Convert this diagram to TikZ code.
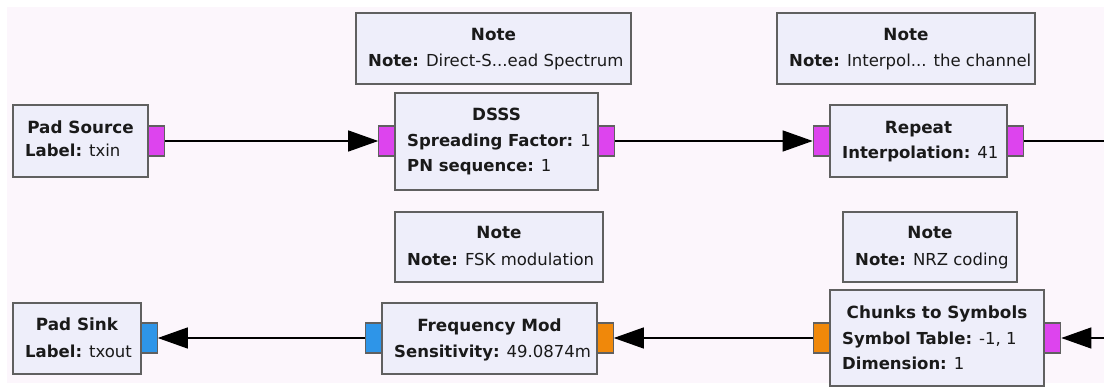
\documentclass[tikz,border=0pt]{standalone}
\usepackage{fontspec}
\setmainfont{DejaVu Sans}
\usetikzlibrary{arrows.meta}
\definecolor{bg}{HTML}{FCF6FC}
\definecolor{blockfill}{HTML}{EEEEFA}
\definecolor{blockdraw}{HTML}{606060}
\definecolor{portmag}{HTML}{DD44EE}
\definecolor{portorange}{HTML}{F0880A}
\definecolor{portblue}{HTML}{2E95E8}
\definecolor{txt}{HTML}{1A1A1A}
\begin{document}
\begin{tikzpicture}[x=1pt,y=-1pt,
  block/.style={draw=blockdraw, fill=blockfill, line width=1.3pt, rectangle, inner sep=0pt},
  port/.style={draw=blockdraw, line width=1.1pt, rectangle, inner sep=0pt, minimum width=16.5pt, minimum height=30pt},
  magport/.style={port, fill=portmag},
  orport/.style={port, fill=portorange},
  blport/.style={port, fill=portblue},
  ttl/.style={font=\fontsize{16.8}{20}\selectfont\bfseries, text=txt, inner sep=0pt, anchor=base},
  prm/.style={font=\fontsize{16.5}{20}\selectfont, text=txt, inner sep=0pt, anchor=base west},
  wire/.style={line width=1.3pt, draw=black},
  flow/.style={wire, -{Triangle[length=30pt,width=21pt]}}]
\useasboundingbox (0,0) rectangle (1104,387);
\fill[white] (0,0) rectangle (1104,387);
\fill[bg] (7,7) rectangle (1104,383);

% ports
\node[magport] (psrcout) at (156.5,141) {};
\node[magport] (dsssin) at (387,141) {};
\node[magport] (dsssout) at (606.5,141) {};
\node[magport] (repin) at (821.5,141) {};
\node[magport] (repout) at (1015,141) {};
\node[blport] (psinkin) at (149,338) {};
\node[blport] (fmout) at (374,338) {};
\node[orport] (fmin) at (605,338) {};
\node[orport] (ctsout) at (821.5,338) {};
\node[magport] (ctsin) at (1052.5,338) {};

% blocks
\node[block, minimum width=135pt, minimum height=72pt] (psrc) at (80.5,141) {};
\node[block, minimum width=203pt, minimum height=97pt] (dsss) at (496.5,141.5) {};
\node[block, minimum width=177pt, minimum height=72pt] (rep) at (918.5,141) {};
\node[block, minimum width=275pt, minimum height=71pt] (note1) at (493.5,48.5) {};
\node[block, minimum width=258pt, minimum height=71pt] (note2) at (906,48.5) {};
\node[block, minimum width=128pt, minimum height=71pt] (psink) at (77,338.5) {};
\node[block, minimum width=215pt, minimum height=71pt] (fm) at (489.5,338.5) {};
\node[block, minimum width=214pt, minimum height=96pt] (cts) at (937,338) {};
\node[block, minimum width=208pt, minimum height=70pt] (note3) at (499,247) {};
\node[block, minimum width=174pt, minimum height=70pt] (note4) at (930,247) {};

% texts
\node[ttl] (psrct) at (psrc.center |- 0,133.5) {Pad Source};
\node[prm] (psrcp) at (25,157) {\textbf{Label:} txin};

\node[ttl] (dssst) at (dsss.center |- 0,121) {DSSS};
\node[prm] (dsssp1) at (407,146.5) {\textbf{Spreading Factor:} 1};
\node[prm] (dsssp2) at (407,172) {\textbf{PN sequence:} 1};

\node[ttl] (rept) at (rep.center |- 0,133.5) {Repeat};
\node[prm] (repp) at (842,158.5) {\textbf{Interpolation:} 41};

\node[ttl] (note1t) at (note1.center |- 0,40.5) {Note};
\node[prm] (note1p) at (368,66.5) {\textbf{Note:} Direct-S...ead Spectrum};

\node[ttl] (note2t) at (note2.center |- 0,40.5) {Note};
\node[prm] (note2p) at (789,66.5) {\textbf{Note:} Interpol... the channel};

\node[ttl] (psinkt) at (psink.center |- 0,331) {Pad Sink};
\node[prm] (psinkp) at (25,357.5) {\textbf{Label:} txout};

\node[ttl] (fmt) at (fm.center |- 0,331.5) {Frequency Mod};
\node[prm] (fmp) at (394,357.5) {\textbf{Sensitivity:} 49.0874m};

\node[ttl] (ctst) at (cts.center |- 0,318.5) {Chunks to Symbols};
\node[prm] (ctsp1) at (842,344.5) {\textbf{Symbol Table:} -1, 1};
\node[prm] (ctsp2) at (842,370) {\textbf{Dimension:} 1};

\node[ttl] (note3t) at (note3.center |- 0,239) {Note};
\node[prm] (note3p) at (407,265.5) {\textbf{Note:} FSK modulation};

\node[ttl] (note4t) at (note4.center |- 0,239) {Note};
\node[prm] (note4p) at (855,265.5) {\textbf{Note:} NRZ coding};

% connectors
\coordinate (topend) at (1104,141);
\coordinate (botstart) at (1104,338);
\draw[flow] (psrcout.east) -- (dsssin.west);
\draw[flow] (dsssout.east) -- (repin.west);
\draw[wire] (repout.east) -- (topend);
\draw[flow] (botstart) -- (ctsin.east);
\draw[flow] (ctsout.west) -- (fmin.east);
\draw[flow] (fmout.west) -- (psinkin.east);
\end{tikzpicture}
\end{document}
